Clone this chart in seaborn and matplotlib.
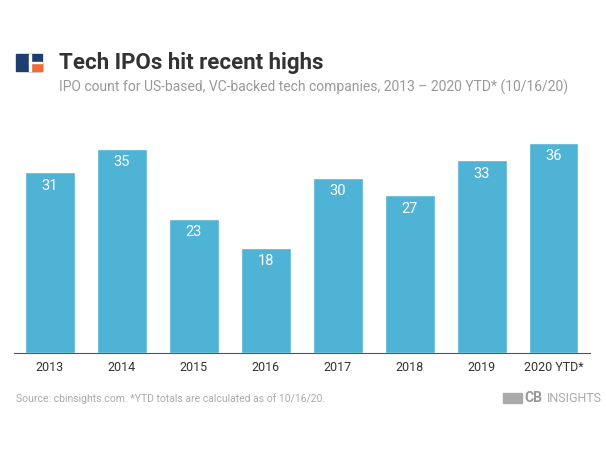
import matplotlib
matplotlib.use('Agg')
import matplotlib.pyplot as plt
import seaborn as sns
from matplotlib.patches import Rectangle

sns.set_style('white')
plt.rcParams['font.family'] = ['Roboto', 'DejaVu Sans']

years = ['2013', '2014', '2015', '2016', '2017', '2018', '2019', '2020 YTD*']
ipos = [31, 35, 23, 18, 30, 27, 33, 36]

fig = plt.figure(figsize=(6.06, 4.55), dpi=100)
ax = fig.add_axes([0.023, 0.224, 0.95, 0.49])
sns.barplot(x=years, y=ipos, color='#4fb3d6', saturation=1, width=0.69, ax=ax)
ax.set_ylim(0, 38.2)
ax.set_xlim(-0.5, 7.5)
for i, v in enumerate(ipos):
    ax.text(i, v - 2.3, str(v), ha='center', va='center', color='white', fontsize=10.5)
ax.set_yticks([])
for s in ['top', 'right', 'left']:
    ax.spines[s].set_visible(False)
ax.spines['bottom'].set_color('#555555')
ax.tick_params(axis='x', length=0, labelsize=9, labelcolor='#333333', pad=6)
ax.set_xlabel('')

fig.text(0.097, 0.862, 'Tech IPOs hit recent highs', fontsize=16, fontweight='bold', color='#333333', va='center')
fig.text(0.097, 0.807, 'IPO count for US-based, VC-backed tech companies, 2013 \u2013 2020 YTD* (10/16/20)',
         fontsize=10, color='#999999', va='center')
fig.text(0.027, 0.125, 'Source: cbinsights.com. *YTD totals are calculated as of 10/16/20.',
         fontsize=7.5, color='#aaaaaa', va='center')
fig.text(0.866, 0.125, 'CB', fontsize=10, fontweight='bold', color='#999999', va='center')
fig.text(0.903, 0.125, 'INSIGHTS', fontsize=9, color='#aaaaaa', va='center')
fig.patches.append(Rectangle((0.83, 0.115), 0.032, 0.022, transform=fig.transFigure, color='#aaaaaa'))

# logo
fig.patches.append(Rectangle((0.027, 0.845), 0.042, 0.036, transform=fig.transFigure, color='#1d3f6e'))
fig.patches.append(Rectangle((0.05, 0.845), 0.019, 0.016, transform=fig.transFigure, color='#f26b32'))
fig.patches.append(Rectangle((0.048, 0.845), 0.003, 0.036, transform=fig.transFigure, color='white'))
fig.patches.append(Rectangle((0.048, 0.861), 0.021, 0.003, transform=fig.transFigure, color='white'))

fig.savefig('out.png', dpi=100)
